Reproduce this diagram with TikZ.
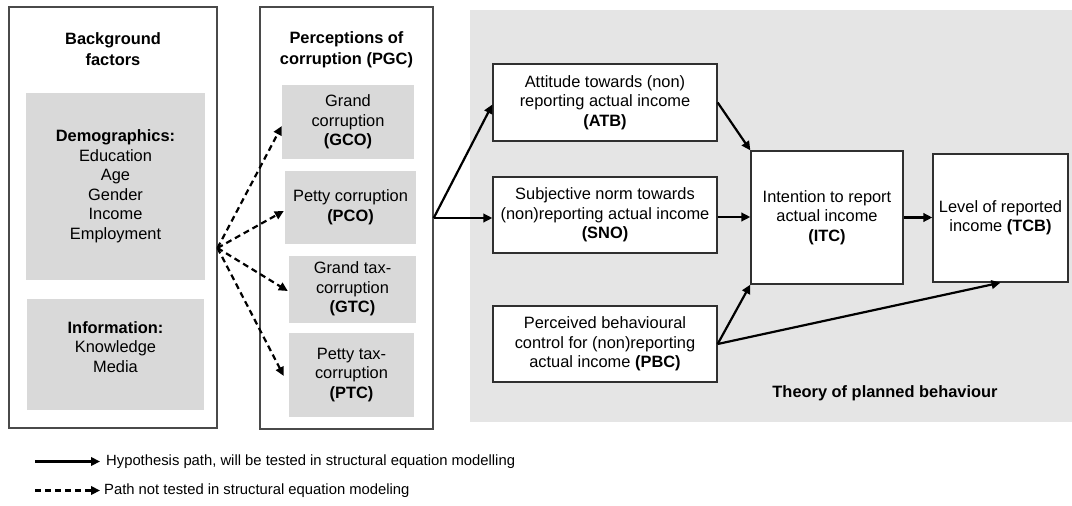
\documentclass[tikz,border=0pt]{standalone}
\usepackage{fontspec}
\setmainfont{Liberation Sans}
\usetikzlibrary{arrows.meta,calc}
\definecolor{panelgray}{HTML}{E5E5E5}
\definecolor{cellgray}{HTML}{D9D9D9}
\definecolor{framegray}{HTML}{4A4A4A}
\definecolor{boxline}{HTML}{303030}
\begin{document}
\begin{tikzpicture}[x=1pt,y=-1pt,
  every node/.style={font=\fontsize{16.4}{19.5}\selectfont, align=center, inner sep=0pt},
  outerbox/.style={draw=framegray, line width=1.4pt, fill=white},
  cell/.style={fill=cellgray},
  tpbbox/.style={draw=boxline, line width=1.3pt, fill=white},
  title/.style={font=\fontsize{16.4}{21}\selectfont\bfseries},
  hyp/.style={line width=2.2pt, -{Triangle[length=9pt,width=8.5pt]}},
  nottested/.style={line width=2.2pt, dash pattern=on 6pt off 4pt, -{Triangle[length=9pt,width=8.5pt]}},
  legendtext/.style={font=\fontsize{14.8}{17}\selectfont, anchor=west}
]
\useasboundingbox (0,0) rectangle (1072,506);

% grey panel of the theory of planned behaviour
\node[fill=panelgray, minimum width=602pt, minimum height=412pt] (tpb) at (771,216) {};
\node[title] (tpbtitle) at (885,393) {Theory of planned behaviour};

% background factors
\node[outerbox, minimum width=208pt, minimum height=421pt] (bg) at (113,217.5) {};
\node[title] (bgtitle) at (113,49.5) {Background\\factors};
\node[cell, minimum width=179pt, minimum height=187pt] (demo) at (115.5,186.5)
  {\textbf{Demographics:}\\Education\\Age\\Gender\\Income\\Employment};
\node[cell, minimum width=177pt, minimum height=111pt] (info) at (115.5,354.5) {};
\node (infotext) at (115.5,347) {\textbf{Information:}\\Knowledge\\Media};

% perceptions of corruption
\node[outerbox, minimum width=173pt, minimum height=422pt] (pgc) at (346.5,218) {};
\node[title] (pgctitle) at (346.5,49.5) {Perceptions of\\corruption (PGC)};
\node[cell, minimum width=132pt, minimum height=74pt] (gco) at (348,122)
  {Grand\\corruption\\\textbf{(GCO)}};
\node[cell, minimum width=131pt, minimum height=73pt] (pco) at (350.5,207.5)
  {Petty corruption\\\textbf{(PCO)}};
\node[cell, minimum width=127pt, minimum height=67pt] (gtc) at (352.5,289)
  {Grand tax-\\corruption\\\textbf{(GTC)}};
\node[cell, minimum width=125pt, minimum height=84pt] (ptc) at (351.5,375)
  {Petty tax-\\corruption\\\textbf{(PTC)}};

% constructs of the theory of planned behaviour
\node[tpbbox, minimum width=224pt, minimum height=77pt] (atb) at (605,102.5)
  {Attitude towards (non)\\reporting actual income\\\textbf{(ATB)}};
\node[tpbbox, minimum width=224pt, minimum height=76pt] (sno) at (605,215)
  {Subjective norm towards\\(non)reporting actual income\\\textbf{(SNO)}};
\node[tpbbox, minimum width=224pt, minimum height=76pt] (pbc) at (605,344)
  {Perceived behavioural\\control for (non)reporting\\actual income \textbf{(PBC)}};
\node[tpbbox, minimum width=152pt, minimum height=133pt] (itc) at (827,217.5)
  {Intention to report\\actual income\\\textbf{(ITC)}};
\node[tpbbox, minimum width=135pt, minimum height=128pt] (tcb) at (1000.5,218)
  {Level of reported\\income \textbf{(TCB)}};

% paths not tested
\coordinate (fan) at (217.5,248);
\draw[nottested] (fan) -- ([yshift=-4pt]gco.west);
\draw[nottested] (fan) -- ([yshift=-3.5pt,xshift=-1pt]pco.west);
\draw[nottested] (fan) -- ([yshift=-2pt,xshift=-1pt]gtc.west);
\draw[nottested] (fan) -- ([yshift=-1pt,xshift=-5pt]ptc.west);

% hypothesis paths
\coordinate (snoout) at ([yshift=-2pt]sno.east);
\draw[hyp] (pgc.east) -- ([yshift=-2pt]atb.west);
\draw[hyp] (pgc.east) -- (pgc.east -| sno.west);
\draw[hyp] (atb.east) -- (itc.north west);
\draw[hyp] (snoout) -- (itc.west |- snoout);
\draw[hyp] (pbc.east) -- (itc.south west);
\draw[hyp] (pbc.east) -- (tcb.south);
\draw[hyp] (itc.east) -- (tcb.west |- itc.east);

% legend
\coordinate (hypa) at (35,461.5);
\coordinate (hypb) at (100,461.5);
\coordinate (nota) at (35,490.5);
\coordinate (notb) at (100,490.5);
\draw[hyp] (hypa) -- (hypb);
\draw[nottested] (nota) -- (notb);
\node[legendtext] (hyptext) at (106,461.5) {Hypothesis path, will be tested in structural equation modelling};
\node[legendtext] (nottext) at (104,490.5) {Path not tested in structural equation modeling};
\end{tikzpicture}
\end{document}
